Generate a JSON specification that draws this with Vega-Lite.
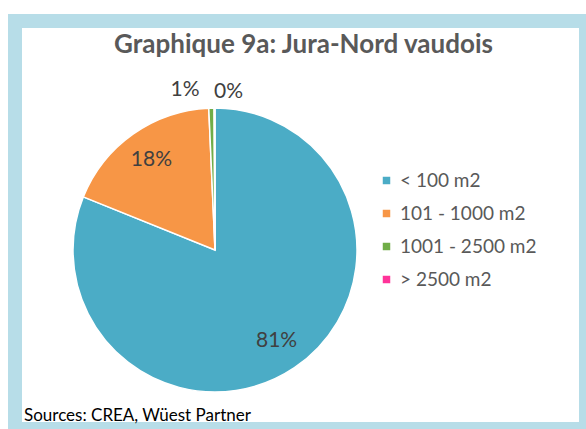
{
  "$schema": "https://vega.github.io/schema/vega-lite/v6.json",
  "width": 571,
  "height": 408,
  "autosize": {"type": "none"},
  "padding": {"left": 15, "top": 21, "right": 0, "bottom": 0},
  "background": "white",
  "view": {"stroke": "#B7DDE8", "strokeWidth": 14, "fill": "white"},
  "title": {
    "text": "Graphique 9a: Jura-Nord vaudois",
    "font": "Lato",
    "fontSize": 26,
    "fontWeight": "bold",
    "color": "#595959",
    "anchor": "middle",
    "baseline": "alphabetic",
    "offset": 0,
    "dy": 58,
    "dx": 3
  },
  "data": {
    "values": [
      {"category": "< 100 m2", "rank": 1, "share": 0.811},
      {"category": "101 - 1000 m2", "rank": 2, "share": 0.182},
      {"category": "1001 - 2500 m2", "rank": 3, "share": 0.006},
      {"category": "> 2500 m2", "rank": 4, "share": 0.001}
    ]
  },
  "layer": [
    {
      "mark": {"type": "arc", "outerRadius": 142, "x": 200, "y": 229, "stroke": "white", "strokeWidth": 1.5},
      "encoding": {
        "theta": {"field": "share", "type": "quantitative", "stack": true},
        "order": {"field": "rank", "type": "quantitative"},
        "color": {
          "field": "category",
          "type": "nominal",
          "sort": ["< 100 m2", "101 - 1000 m2", "1001 - 2500 m2", "> 2500 m2"],
          "scale": {
            "domain": ["< 100 m2", "101 - 1000 m2", "1001 - 2500 m2", "> 2500 m2"],
            "range": ["#4BACC6", "#F79646", "#70AD47", "#FF3399"]
          },
          "legend": {
            "orient": "none",
            "legendX": 362,
            "legendY": 150,
            "title": null,
            "symbolType": "square",
            "symbolSize": 56,
            "symbolStrokeWidth": 0,
            "labelFont": "Lato",
            "labelFontSize": 19,
            "labelColor": "#595959",
            "rowPadding": 13,
            "labelOffset": 4,
            "padding": 0
          }
        }
      }
    },
    {
      "mark": {"type": "text", "radius": 110, "x": 200, "y": 229, "font": "Lato", "fontSize": 21, "color": "#404040"},
      "encoding": {
        "theta": {"field": "share", "type": "quantitative", "stack": true},
        "order": {"field": "rank", "type": "quantitative"},
        "detail": {"field": "category", "type": "nominal"},
        "text": {"condition": {"test": "datum.rank <= 2", "field": "share", "type": "quantitative", "format": ".0%"}, "value": ""}
      }
    },
    {
      "mark": {"type": "text", "radius": 160, "x": 200, "y": 229, "dx": -26, "font": "Lato", "fontSize": 21, "color": "#404040"},
      "encoding": {
        "theta": {"field": "share", "type": "quantitative", "stack": true},
        "order": {"field": "rank", "type": "quantitative"},
        "detail": {"field": "category", "type": "nominal"},
        "text": {"condition": {"test": "datum.rank == 3", "field": "share", "type": "quantitative", "format": ".0%"}, "value": ""}
      }
    },
    {
      "mark": {"type": "text", "radius": 160, "x": 200, "y": 229, "dx": 14, "dy": 2, "font": "Lato", "fontSize": 21, "color": "#404040"},
      "encoding": {
        "theta": {"field": "share", "type": "quantitative", "stack": true},
        "order": {"field": "rank", "type": "quantitative"},
        "detail": {"field": "category", "type": "nominal"},
        "text": {"condition": {"test": "datum.rank == 4", "field": "share", "type": "quantitative", "format": ".0%"}, "value": ""}
      }
    },
    {
      "data": {"values": [{"note": "Sources: CREA, Wüest Partner"}]},
      "mark": {"type": "text", "x": 9, "y": 400, "align": "left", "baseline": "alphabetic", "font": "Lato", "fontSize": 17, "color": "#000000"},
      "encoding": {"text": {"field": "note", "type": "nominal"}}
    }
  ]
}
